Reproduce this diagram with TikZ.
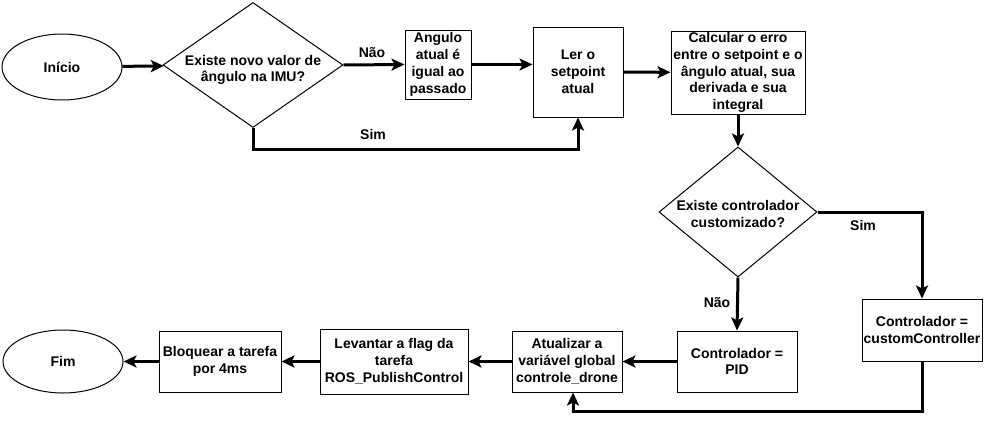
\documentclass[tikz,border=0pt]{standalone}
\usepackage{fontspec}
\setmainfont{Liberation Sans}
\usepackage{tikz}
\usetikzlibrary{shapes.geometric,arrows.meta}

\begin{document}
\begin{tikzpicture}[x=1pt,y=-1pt,
  txt/.style={font=\fontsize{14}{16.8}\selectfont\bfseries, align=center},
  term/.style={ellipse, draw, line width=1pt, inner sep=0pt, txt},
  proc/.style={rectangle, draw, line width=1pt, inner sep=0pt, txt},
  decision/.style={diamond, draw, line width=1pt, inner sep=0pt},
  flow/.style={line width=3pt, -{Stealth[length=13pt,width=12pt,inset=3pt]}},
  lbl/.style={txt, inner sep=0pt}]
\useasboundingbox (0,0) rectangle (984,423);
% first row
\node[term, minimum width=120pt, minimum height=66pt] (ini) at (62,67) {In\'icio};
\node[decision, minimum width=180pt, minimum height=125pt,
  label={[txt, yshift=-5pt]center:Existe novo valor de\\ângulo na IMU?}] (imu) at (253,65) {};
\node[proc, minimum width=66pt, minimum height=69pt] (igual) at (438,64.5) {Angulo\\atual é\\igual ao\\passado};
\node[proc, minimum width=90pt, minimum height=90pt] (ler) at (578,72) {Ler o\\setpoint\\atual};
\node[proc, minimum width=134pt, minimum height=83pt] (erro) at (738,72.5)
  {Calcular o erro\\entre o setpoint e o\\ângulo atual, sua\\derivada e sua\\integral};
% controller choice
\node[decision, minimum width=158pt, minimum height=130pt,
  label={[txt, yshift=-2pt]center:Existe controlador\\customizado?}] (custq) at (738,212) {};
\node[proc, minimum width=120pt, minimum height=61pt] (pid) at (737,361.5) {Controlador =\\PID};
\node[proc, minimum width=120pt, minimum height=62pt] (cust) at (922,330) {Controlador =\\customController};
% last row
\node[proc, minimum width=110pt, minimum height=61pt] (atu) at (567,361.5) {Atualizar a\\variável global\\controle\_drone};
\node[proc, minimum width=148pt, minimum height=65pt] (flag) at (394,361.5) {Levantar a flag da\\tarefa\\ROS\_PublishControl};
\node[proc, minimum width=122pt, minimum height=61pt] (bloq) at (220,361.5) {Bloquear a tarefa\\por 4ms};
\node[term, minimum width=120pt, minimum height=63pt] (fim) at (63,361.5) {Fim};
%
\draw[flow] (ini) -- (imu);
\draw[flow] (imu.east) -- (igual.west);
\draw[flow] (igual.east) -- (igual.east -| ler.west);
\draw[flow] (ler) -- (erro);
\draw[flow] (imu.south) -- (imu.south |- 0,149) -| (ler.south);
\draw[flow] (erro) -- (custq);
\draw[flow] (custq.east) -| (cust.north);
\draw[flow] (custq.south) -- (pid.north);
\draw[flow] (pid) -- (atu);
\draw[flow] (cust.south) -- (cust.south |- 0,411) -| ([xshift=6pt]atu.south);
\draw[flow] (atu) -- (flag);
\draw[flow] (flag) -- (bloq);
\draw[flow] (bloq) -- (fim);
%
\node[lbl] (nao1) at (372,53) {Não};
\node[lbl] (sim1) at (373,134) {Sim};
\node[lbl] (sim2) at (863,225) {Sim};
\node[lbl] (nao2) at (717,303) {Não};
\end{tikzpicture}
\end{document}
